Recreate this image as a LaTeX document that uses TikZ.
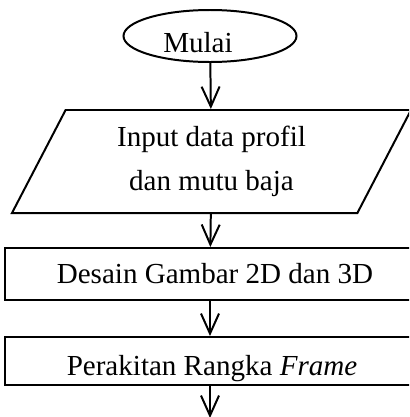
\documentclass[tikz,border=0pt]{standalone}
\usepackage{fontspec}
\setmainfont{Liberation Serif}
\usetikzlibrary{shapes.geometric,arrows.meta}

\begin{document}
\begin{tikzpicture}
[
x=0.015cm, y=-0.015cm,
every node/.style={font=\fontsize{12.4}{19}\selectfont},
Terminal/.style={ellipse, draw=black, line width=0.85pt, inner sep=0pt, minimum width=2.595cm, minimum height=0.78cm},
InputBox/.style={trapezium, trapezium left angle=53, trapezium right angle=127, trapezium stretches body, draw=black, line width=0.85pt, inner sep=0pt, minimum width=5.985cm, minimum height=1.545cm, align=center},
ProcessBox/.style={rectangle, draw=black, line width=0.85pt, inner sep=0pt, minimum width=6.15cm},
FlowArrow/.style={-{Straight Barb[length=0.3cm,width=0.27cm]}, line width=0.85pt, draw=black},
]

\useasboundingbox (0,0) rectangle (409,417);
\clip (0,0) rectangle (409,417);

\node[Terminal, text height=14.5pt, text depth=0pt] (mulai) at (210,36) {Mulai\hspace*{0.36cm}};
\node[InputBox] (input) at (211.5,161.5) {Input data profil\\dan mutu baja};
\node[ProcessBox, minimum height=0.78cm] (desain) at (210,274) {\hspace*{0.15cm}Desain Gambar 2D dan 3D};
\node[ProcessBox, minimum height=0.72cm, text height=12pt, text depth=0pt] (rakit) at (210,361) {\hspace*{0.06cm}Perakitan Rangka \textit{Frame}};
\coordinate (lanjut) at (210,418);

\draw[FlowArrow] (mulai) -- (input);
\draw[FlowArrow] (input) -- (desain);
\draw[FlowArrow] (desain) -- (rakit);
\draw[FlowArrow] (rakit) -- (lanjut);

\end{tikzpicture}
\end{document}
